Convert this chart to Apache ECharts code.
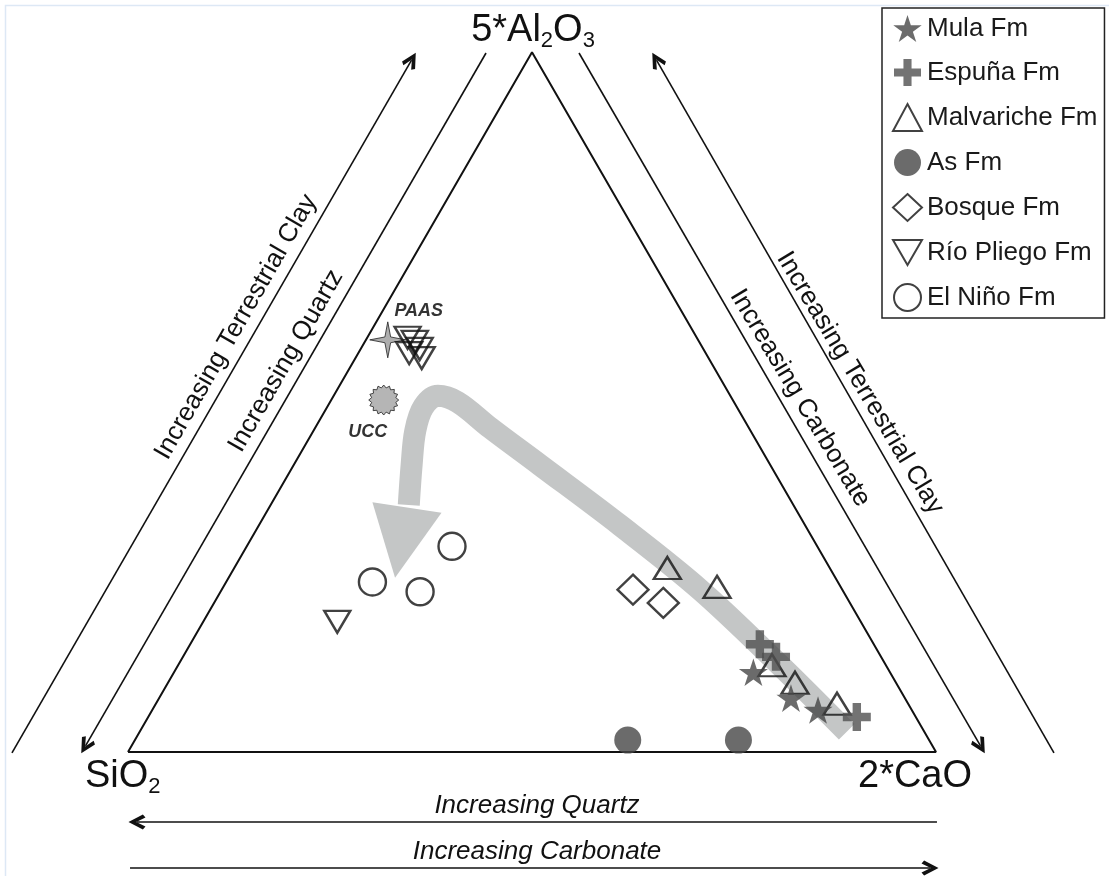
<!DOCTYPE html>
<html>
<head>
<meta charset="utf-8">
<script src="https://cdn.jsdelivr.net/npm/echarts@6/dist/echarts.min.js"></script>
<style>
html, body { margin: 0; padding: 0; background: #fff; }
#main { width: 1109px; height: 876px; }
</style>
</head>
<body>
<div id="main"></div>
<script>
// compositions, as [SiO2, 5*Al2O3, 2*CaO] in %
var mula = [[16.9, 11.4, 71.7], [14.1, 7.7, 78.2], [11.6, 6.0, 82.4]];
var espuna = [[14.1, 15.4, 70.5], [13.0, 13.6, 73.4], [7.3, 5.0, 87.7]];
var malvariche = [[20.1, 26.3, 53.6], [15.3, 23.6, 61.1], [14.1, 12.4, 73.5], [12.5, 9.9, 77.6], [8.8, 6.9, 84.3]];
var asFm = [[37.3, 1.7, 61.0], [23.6, 1.7, 74.7]];
var bosque = [[25.9, 23.2, 50.9], [23.1, 21.3, 55.6]];
var rioPliego = [[35.8, 59.2, 5.0], [35.2, 58.6, 6.2], [35.1, 57.6, 7.3], [36.7, 57.0, 6.3], [35.5, 56.3, 8.2], [64.8, 18.6, 16.6]];
var elNino = [[45.2, 29.4, 25.4], [57.6, 24.3, 18.1], [52.4, 22.9, 24.7]];
var paas = [[38.4, 58.9, 2.7]];
var ucc = [[43.2, 50.3, 6.5]];

// grey trend arrow
var trendPath = [[9.6, 2.9, 87.5], [13.1, 12.4, 74.5], [17.6, 23.2, 59.2], [22.9, 32.4, 44.7], [28.5, 41.0, 30.5],
  [32.0, 46.3, 21.7], [34.2, 50.0, 15.8], [36.2, 50.9, 12.9], [38.8, 49.3, 11.9], [41.5, 45.9, 12.6],
  [44.4, 41.0, 14.6], [47.6, 35.3, 17.1]];
var trendHead = [[51.9, 35.7, 12.4], [44.1, 34.2, 21.7], [54.5, 24.9, 20.6]];

var vertices = [[100, 0, 0], [0, 100, 0], [0, 0, 100], [100, 0, 0]];

// arrows outside the triangle, in plot units (base = 0..1), head at the second point
var sideArrows = [
  [[-0.1436, -0.0012], [0.3509, 0.8563]],
  [[0.4431, 0.8651], [-0.0526, 0.0075]],
  [[1.1460, -0.0012], [0.6541, 0.8563]],
  [[0.5582, 0.8651], [1.0551, 0.0075]],
  [[1.0012, -0.0866], [0.0111, -0.0866]],
  [[0.0025, -0.1436], [0.9926, -0.1436]]
];

var H = Math.sqrt(3) / 2;
function toXY(p) {
  var t = p[0] + p[1] + p[2];
  return [(p[2] + p[1] / 2) / t, p[1] * H / t];
}

var FONT = '"Liberation Sans", Arial, sans-serif';
var star5 = 'path://M50,0 L61.2,34.6 L97.6,34.5 L68.1,55.9 L79.4,90.5 L50,69 L20.6,90.5 L31.9,55.9 L2.4,34.5 L38.8,34.6 Z';
var cross = 'path://M35,0 H65 V35 H100 V65 H65 V100 H35 V65 H0 V35 H35 Z';
var downTri = 'path://M0,0 L100,0 L50,86 Z';
var star4 = 'path://M50,0 L58,42 L100,50 L58,58 L50,100 L42,58 L0,50 L42,42 Z';
var chevron = 'path://M5,0 L10,10 L8,11.8 L5,5.4 L2,11.8 L0,10 Z';
function burst(n) {
  var s = 'path://';
  for (var i = 0; i < 2 * n; i++) {
    var r = i % 2 ? 41 : 50, ang = Math.PI * i / n;
    s += (i ? 'L' : 'M') + (50 + r * Math.cos(ang)).toFixed(1) + ',' + (50 + r * Math.sin(ang)).toFixed(1) + ' ';
  }
  return s + 'Z';
}

var hollow = { color: 'rgba(255,255,255,0)', borderColor: '#111', borderWidth: 2.4 };

var markLines = sideArrows.map(function (l) {
  return [{ coord: l[0], symbol: 'none' }, { coord: l[1], symbol: chevron }];
});

function sideText(x, y, rot, txt) {
  return { type: 'text', x: x, y: y, rotation: rot, style: { text: txt, font: '26px ' + FONT, fill: '#111', textAlign: 'center', textVerticalAlign: 'middle' } };
}

var myChart = echarts.init(document.getElementById('main'));

var option = {
  animation: false,
  backgroundColor: '#fff',
  grid: { left: 0, right: 0, top: 0, bottom: 0 },
  xAxis: { type: 'value', min: -128 / 808, max: 981 / 808, show: false },
  yAxis: { type: 'value', min: -124 / 808, max: 752 / 808, show: false },
  legend: {
    orient: 'vertical',
    left: 882,
    top: 8,
    padding: [7, 7, 6, 10],
    itemGap: 17,
    itemWidth: 29,
    itemHeight: 27,
    backgroundColor: '#fff',
    borderColor: '#222',
    borderWidth: 1.5,
    borderRadius: 0,
    textStyle: { fontFamily: FONT, fontSize: 26, color: '#1a1a1a', lineHeight: 27 },
    data: ['Mula Fm', 'Espuña Fm', 'Malvariche Fm', 'As Fm', 'Bosque Fm', 'Río Pliego Fm', 'El Niño Fm']
  },
  graphic: [
    { type: 'rect', silent: true, shape: { x: 5.5, y: 5.5, width: 1120, height: 890 }, style: { fill: 'none', stroke: '#dde8f5', lineWidth: 1.5 } },
    { type: 'text', x: 533, y: 31, style: { text: '5*Al{s|2}O{s|3}', font: '38px ' + FONT, fill: '#111', textAlign: 'center', textVerticalAlign: 'middle', lineHeight: 44, rich: { s: { fontSize: 22, fontFamily: FONT, padding: [20, 0, 0, 0] } } } },
    { type: 'text', x: 85, y: 777, style: { text: 'SiO{s|2}', font: '38px ' + FONT, fill: '#111', textAlign: 'left', textVerticalAlign: 'middle', lineHeight: 44, rich: { s: { fontSize: 22, fontFamily: FONT, padding: [20, 0, 0, 0] } } } },
    { type: 'text', x: 858, y: 777, style: { text: '2*CaO', font: '38px ' + FONT, fill: '#111', textAlign: 'left', textVerticalAlign: 'middle' } },
    { type: 'text', x: 537, y: 806, style: { text: 'Increasing Quartz', font: 'italic 26px ' + FONT, fill: '#111', textAlign: 'center', textVerticalAlign: 'middle' } },
    { type: 'text', x: 537, y: 852, style: { text: 'Increasing Carbonate', font: 'italic 26px ' + FONT, fill: '#111', textAlign: 'center', textVerticalAlign: 'middle' } },
    sideText(236, 327, 1.05, 'Increasing Terrestrial Clay'),
    sideText(286, 361, 1.05, 'Increasing Quartz'),
    sideText(800, 398, -1.03, 'Increasing Carbonate'),
    sideText(860, 383, -1.03, 'Increasing Terrestrial Clay')
  ],
  series: [
    {
      name: 'trend', type: 'line', z: 1, silent: true, smooth: 0.35, symbol: 'none',
      lineStyle: { color: '#c4c6c6', width: 22, cap: 'butt' },
      data: trendPath.map(toXY)
    },
    {
      name: 'trendHead', type: 'custom', z: 1, silent: true,
      data: [[0, 0]],
      renderItem: function (params, api) {
        return { type: 'polygon', shape: { points: trendHead.map(function (p) { return api.coord(toXY(p)); }) }, style: { fill: '#c4c6c6' } };
      }
    },
    {
      name: 'frame', type: 'line', z: 2, silent: true, symbol: 'none',
      lineStyle: { color: '#111', width: 2 },
      data: vertices.map(toXY),
      markLine: {
        silent: true, animation: false, symbolSize: [15, 17],
        label: { show: false },
        lineStyle: { color: '#111', width: 1.6, type: 'solid' },
        data: markLines
      }
    },
    { name: 'PAAS', type: 'scatter', z: 3, symbol: star4, symbolSize: 36, itemStyle: { color: '#9a9a9a', borderColor: '#222', borderWidth: 1 },
      label: { show: true, position: 'inside', offset: [31, -29], formatter: 'PAAS', fontFamily: FONT, fontSize: 18, fontStyle: 'italic', fontWeight: 'bold', color: '#000' },
      data: paas.map(toXY) },
    { name: 'UCC', type: 'scatter', z: 3, symbol: burst(16), symbolSize: 30, itemStyle: { color: '#a3a3a3', borderColor: '#222', borderWidth: 1 },
      label: { show: true, position: 'inside', offset: [-16, 32], formatter: 'UCC', fontFamily: FONT, fontSize: 18, fontStyle: 'italic', fontWeight: 'bold', color: '#000' },
      data: ucc.map(toXY) },
    { name: 'Bosque Fm', type: 'scatter', z: 4, symbol: 'diamond', symbolSize: [31, 30], itemStyle: hollow, data: bosque.map(toXY) },
    { name: 'El Niño Fm', type: 'scatter', z: 4, symbol: 'circle', symbolSize: 27, itemStyle: hollow, data: elNino.map(toXY) },
    { name: 'Río Pliego Fm', type: 'scatter', z: 4, symbol: downTri, symbolSize: [26, 22], itemStyle: hollow, data: rioPliego.map(toXY) },
    { name: 'Malvariche Fm', type: 'scatter', z: 4, symbol: 'triangle', symbolSize: [27, 22], itemStyle: hollow, data: malvariche.map(toXY) },
    { name: 'As Fm', type: 'scatter', z: 4, symbol: 'circle', symbolSize: 27, itemStyle: { color: '#464646' }, data: asFm.map(toXY) },
    { name: 'Espuña Fm', type: 'scatter', z: 5, symbol: cross, symbolSize: 28, itemStyle: { color: '#505050' }, data: espuna.map(toXY) },
    { name: 'Mula Fm', type: 'scatter', z: 5, symbol: star5, symbolSize: 29, symbolKeepAspect: true, itemStyle: { color: '#464646' }, data: mula.map(toXY) }
  ]
};

myChart.setOption(option);
</script>
</body>
</html>
